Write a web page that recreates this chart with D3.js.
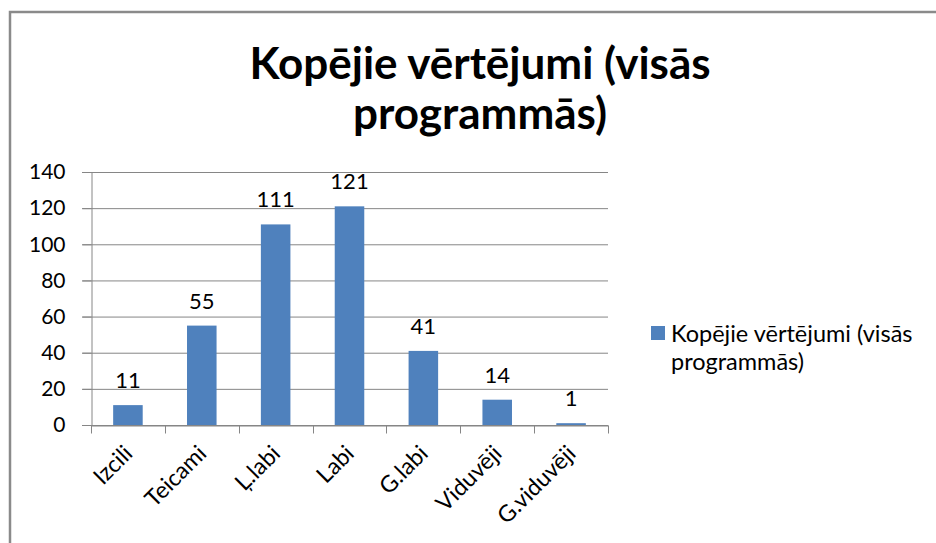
<!DOCTYPE html>
<html>
<head>
<meta charset="utf-8">
<script src="https://cdn.jsdelivr.net/npm/d3@7"></script>
<style>
  body { margin: 0; background: #fff; }
  svg { display: block; font-family: Lato, 'Open Sans', sans-serif; }
</style>
</head>
<body>
<svg id="chart"></svg>
<script>
const width = 936
const height = 543

// data
const categories = ['Izcili', 'Teicami', 'Ļ.labi', 'Labi', 'G.labi', 'Viduvēji', 'G.viduvēji']
const values = [11, 55, 111, 121, 41, 14, 1]
const yTicks = [0, 20, 40, 60, 80, 100, 120, 140]
const titleLines = ['Kopējie vērtējumi (visās', 'programmās)']
const legendLines = ['Kopējie vērtējumi (visās', 'programmās)']

const barColor = '#4f81bd'
const gridColor = '#868686'

const svg = d3.select('#chart')
  .attr('width', width)
  .attr('height', height)
  .attr('viewBox', [0, 0, width, height])

// --------------------------------------------------------------
// chart frame (only the top and left edges are visible)
svg.append('path')
  .attr('d', `M10,${height} V12 H${width}`)
  .attr('fill', 'none')
  .attr('stroke', '#8a8a8a')
  .attr('stroke-width', 2.5)

// --------------------------------------------------------------
// title
svg.append('g')
  .selectAll('text')
  .data(titleLines)
  .join('text')
  .attr('x', 480)
  .attr('y', (d, i) => 79 + i * 50)
  .attr('text-anchor', 'middle')
  .attr('font-size', 44)
  .attr('font-weight', 'bold')
  .attr('fill', '#000')
  .text((d) => d)

// --------------------------------------------------------------
// scales
const x = d3.scaleBand()
  .domain(categories)
  .range([91, 608])

const y = d3.scaleLinear()
  .domain([0, 140])
  .range([425, 172])

// gridlines
svg.append('g')
  .selectAll('line')
  .data(yTicks)
  .join('line')
  .attr('x1', 82)
  .attr('x2', 608)
  .attr('y1', (d) => y(d) + 0.5)
  .attr('y2', (d) => y(d) + 0.5)
  .attr('stroke', gridColor)
  .attr('stroke-width', 1)

// y axis
const yAxis = svg.append('g')
  .attr('transform', 'translate(91.5,0)')
  .call(d3.axisLeft(y).tickValues(yTicks).tickSize(9).tickPadding(17))
yAxis.select('.domain').attr('stroke', gridColor)
yAxis.selectAll('.tick line').attr('stroke', gridColor)
yAxis.selectAll('.tick text')
  .attr('font-family', 'Lato, sans-serif')
  .attr('font-size', 21)
  .attr('fill', '#000')

// bars
const bw = x.bandwidth()
svg.append('g')
  .selectAll('rect')
  .data(values)
  .join('rect')
  .attr('x', (d, i) => x(categories[i]) + bw * 0.3)
  .attr('width', bw * 0.4)
  .attr('y', (d) => y(d))
  .attr('height', (d) => y(0) - y(d))
  .attr('fill', barColor)

// x axis
const xAxis = svg.append('g')
  .attr('transform', `translate(0,${y(0) + 0.5})`)
  .call(d3.axisBottom(x).tickSize(0).tickFormat(''))
xAxis.select('.domain').attr('stroke', gridColor)

// ticks at band boundaries
const bounds = categories.map((c) => x(c)).concat([x.range()[1]])
xAxis.append('g')
  .selectAll('line')
  .data(bounds)
  .join('line')
  .attr('x1', (d) => Math.round(d) + 0.5)
  .attr('x2', (d) => Math.round(d) + 0.5)
  .attr('y1', 0)
  .attr('y2', 8)
  .attr('stroke', gridColor)

// rotated category labels
svg.append('g')
  .selectAll('text')
  .data(categories)
  .join('text')
  .attr('transform', (d) => `translate(${x(d) + bw / 2 + 6},${y(0) + 30}) rotate(-45)`)
  .attr('text-anchor', 'end')
  .attr('font-size', 23)
  .attr('fill', '#000')
  .text((d) => d)

// value labels
svg.append('g')
  .selectAll('text')
  .data(values)
  .join('text')
  .attr('x', (d, i) => x(categories[i]) + bw / 2)
  .attr('y', (d) => y(d) - 17)
  .attr('text-anchor', 'middle')
  .attr('font-size', 22)
  .attr('fill', '#000')
  .text((d) => d)

// --------------------------------------------------------------
// legend
const legend = svg.append('g').attr('transform', 'translate(651,326)')
legend.append('rect')
  .attr('width', 14)
  .attr('height', 14)
  .attr('fill', barColor)
legend.selectAll('text')
  .data(legendLines)
  .join('text')
  .attr('x', 20)
  .attr('y', (d, i) => 16 + i * 28)
  .attr('font-size', 23.5)
  .attr('fill', '#000')
  .text((d) => d)
</script>
</body>
</html>
